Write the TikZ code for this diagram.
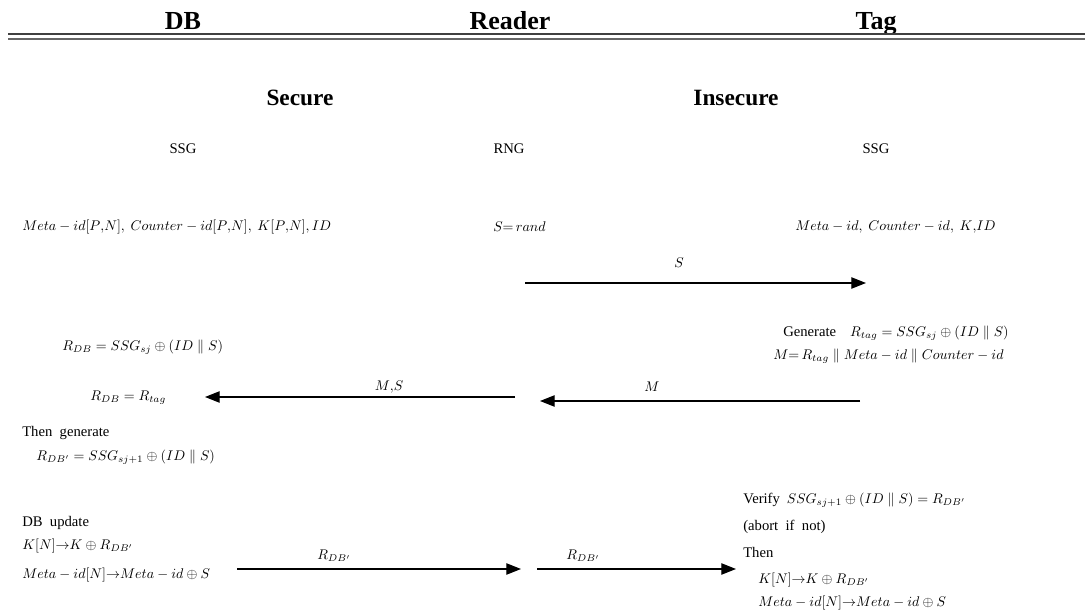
\RequirePackage{fix-cm}
\documentclass[tikz,border=0pt]{standalone}
\usepackage[no-math]{fontspec}
\setmainfont{Liberation Serif}
\usetikzlibrary{arrows.meta}
\begin{document}
\begin{tikzpicture}[x=0.75pt,y=-0.75pt,
  hdr/.style={font=\fontsize{19.5}{22}\selectfont\bfseries, anchor=base, inner sep=0pt},
  zone/.style={font=\fontsize{17.5}{20}\selectfont\bfseries, anchor=base, inner sep=0pt},
  small/.style={font=\fontsize{11}{12}\selectfont, inner sep=0pt},
  txt/.style={font=\fontsize{10.5}{13}\selectfont, inner sep=0pt, anchor=west},
  lbl/.style={font=\fontsize{10.5}{13}\selectfont, inner sep=0pt},
  msg/.style={line width=0.9pt, -{Triangle[length=11pt,width=8.5pt]}}]
\useasboundingbox (0,0) rectangle (1085,615);
% header
\node[hdr] (hdb) at (183,29) {DB};
\node[hdr] (hrd) at (510,29) {Reader};
\node[hdr] (htg) at (876,29) {Tag};
\draw[line width=1.6pt, black!75] (8,34) -- (1085,34);
\draw[line width=1.1pt, black!60] (8,39) -- (1085,39);
% zones
\node[zone] (sec) at (300,105) {Secure};
\node[zone] (insec) at (736,105) {Insecure};
\node[small] (ssgl) at (183,149) {SSG};
\node[small] (rng) at (509,149) {RNG};
\node[small] (ssgr) at (876,149) {SSG};
% initial values
\node[txt] (dbinit) at (22,227) {$Meta-id[P{,}N],\ Counter-id[P{,}N],\ K[P{,}N], ID$};
\node[txt] (srand) at (493,227) {$S{=}\,rand$};
\node[txt] (taginit) at (795,227) {$Meta-id,\ Counter-id,\ K{,}ID$};
% message S
\coordinate (s1) at (525,283);
\coordinate (s2) at (866,283);
\draw[msg] (s1) -- (s2);
\node[lbl] (slbl) at (679,263) {$S$};
% tag generate
\node[txt] (gen) at (783,333) {{\fontsize{11}{13}\selectfont Generate}\quad $R_{tag}=SSG_{sj}\oplus(ID\parallel S)$};
\node[txt] (mdef) at (773,356) {$M{=}\,R_{tag}\parallel Meta-id\parallel Counter-id$};
% DB side
\node[txt] (rdb) at (62,347) {$R_{DB}=SSG_{sj}\oplus(ID\parallel S)$};
\node[txt] (rcmp) at (90,398) {$R_{DB}=R_{tag}$};
% message M
\coordinate (m1) at (860,401);
\coordinate (m2) at (540,401);
\draw[msg] (m1) -- (m2);
\node[lbl] (mlbl) at (652,387) {$M$};
% message M,S
\coordinate (ms1) at (515,397);
\coordinate (ms2) at (205,397);
\draw[msg] (ms1) -- (ms2);
\node[lbl] (mslbl) at (389,387) {$M{,}S$};
% then generate
\node[txt] (thg) at (22,433) {\fontsize{11}{13}\selectfont Then\ \ generate};
\node[txt] (rdbp) at (36,457) {$R_{DB'}=SSG_{sj+1}\oplus(ID\parallel S)$};
% DB update
\node[txt] (dbu) at (22,523) {\fontsize{11}{13}\selectfont DB\ \ update};
\node[txt] (dbk) at (22,546) {$K[N]{\to}K\oplus R_{DB'}$};
\node[txt] (dbm) at (22,575) {$Meta-id[N]{\to}Meta-id\oplus S$};
% messages R_DB'
\coordinate (r1) at (237,569);
\coordinate (r2) at (521,569);
\draw[msg] (r1) -- (r2);
\node[lbl] (r1lbl) at (334,556) {$R_{DB'}$};
\coordinate (r3) at (537,569);
\coordinate (r4) at (736,569);
\draw[msg] (r3) -- (r4);
\node[lbl] (r2lbl) at (583,556) {$R_{DB'}$};
% tag verify
\node[txt] (ver) at (743,500) {{\fontsize{11}{13}\selectfont Verify}\ \ $SSG_{sj+1}\oplus(ID\parallel S)=R_{DB'}$};
\node[txt] (abrt) at (743,527) {\fontsize{11}{13}\selectfont (abort\ \ if\ \ not)};
\node[txt] (thn) at (743,552) {\fontsize{11}{13}\selectfont Then};
\node[txt] (tgk) at (758,580) {$K[N]{\to}K\oplus R_{DB'}$};
\node[txt] (tgm) at (758,603) {$Meta-id[N]{\to}Meta-id\oplus S$};
\end{tikzpicture}
\end{document}
